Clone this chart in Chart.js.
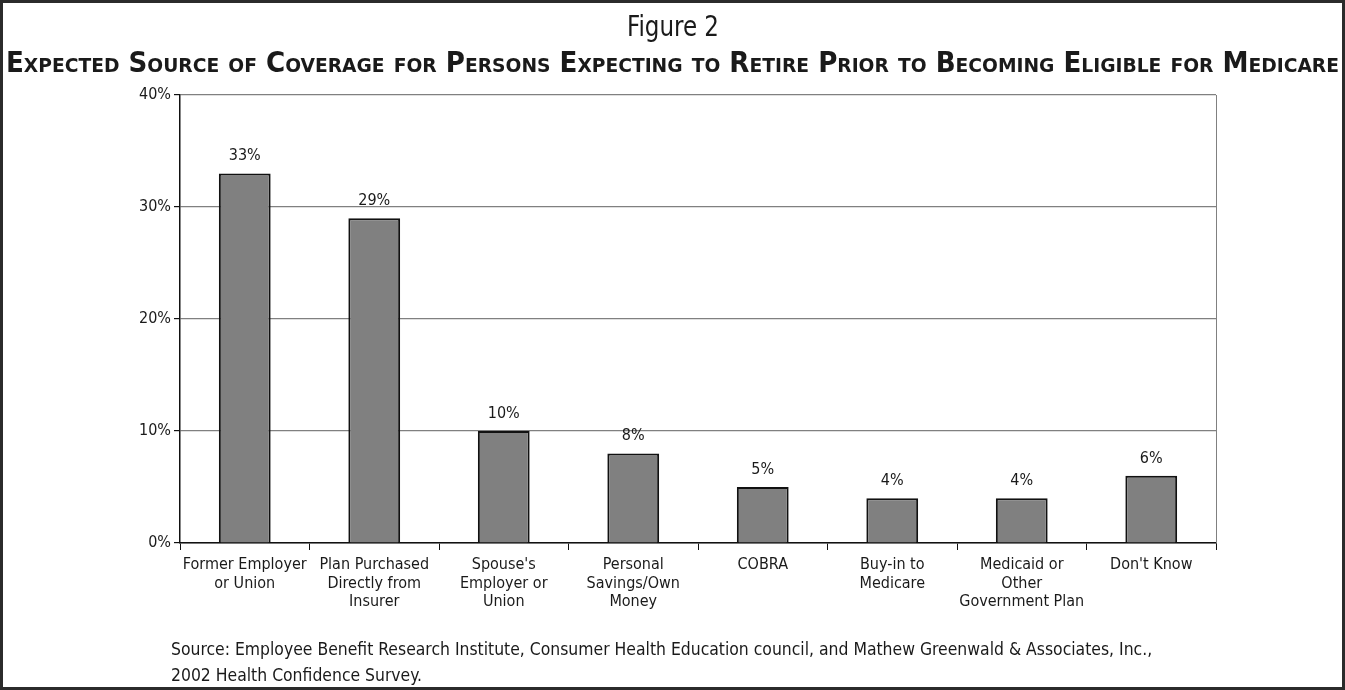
<!DOCTYPE html>
<html>
<head>
<meta charset="utf-8">
<script src="https://cdn.jsdelivr.net/npm/chart.js@4/dist/chart.umd.min.js"></script>
<style>
    html, body { margin: 0; padding: 0; background: #fff; }
    #frame {
        position: relative;
        width: 1345px;
        height: 690px;
        box-sizing: border-box;
        border: 3px solid #2b2b2b;
        overflow: hidden;
        font-family: "Liberation Sans Narrow", "DejaVu Sans Condensed", "Liberation Sans", sans-serif;
        color: #1a1a1a;
    }
    .fit {
        position: absolute; white-space: nowrap; line-height: 1;
        transform-origin: 0 0;
    }
    #figNo { top: 10px; font-size: 28px; }
    #title { top: 46px; font-size: 28px; font-weight: bold; font-variant: small-caps; }
    #source {
        position: absolute; left: 168px; top: 633px;
        font-size: 17.4px; line-height: 26px;
    }
    #chartBox { position: absolute; left: -3px; top: -3px; width: 1345px; height: 690px; }
</style>
</head>
<body>
<div id="frame">
    <div id="chartBox"><canvas id="coverageChart"></canvas></div>
    <div id="figNo" class="fit">Figure 2</div>
    <div id="title" class="fit">Expected Source of Coverage for Persons Expecting to Retire Prior to Becoming Eligible for Medicare</div>
    <div id="source">Source: Employee Benefit Research Institute, Consumer Health Education council, and Mathew Greenwald &amp; Associates, Inc.,<br>2002 Health Confidence Survey.</div>
</div>

<script>
const categories = [
    ["Former Employer", "or Union"],
    ["Plan Purchased", "Directly from", "Insurer"],
    ["Spouse's", "Employer or", "Union"],
    ["Personal", "Savings/Own", "Money"],
    ["COBRA"],
    ["Buy-in to", "Medicare"],
    ["Medicaid or", "Other", "Government Plan"],
    ["Don't Know"]
];
const shares = [33, 29, 10, 8, 5, 4, 4, 6];
const yTicks = [0, 10, 20, 30, 40];

const FONT = "'Liberation Sans Narrow', 'DejaVu Sans Condensed', 'Liberation Sans', sans-serif";

/* squeeze a heading to a given width, centred on the frame */
function fitText(id, width) {
    const el = document.getElementById(id);
    const w = el.getBoundingClientRect().width;
    el.style.left = (1339 / 2 - width / 2) + "px";
    el.style.transform = "scaleX(" + (width / w) + ")";
}
fitText("figNo", 92);
fitText("title", 1333);

/* value labels above bars + gray right border of the plot */
const extras = {
    id: "extras",
    afterDatasetsDraw(chart) {
        const ctx = chart.ctx;
        const area = chart.chartArea;
        ctx.save();
        ctx.strokeStyle = "#808080";
        ctx.lineWidth = 1;
        ctx.beginPath();
        ctx.moveTo(area.right + 0.5, area.top);
        ctx.lineTo(area.right + 0.5, area.bottom);
        ctx.stroke();

        ctx.fillStyle = "#1a1a1a";
        ctx.font = "16px " + FONT;
        ctx.textAlign = "center";
        ctx.textBaseline = "alphabetic";
        chart.getDatasetMeta(0).data.forEach((bar, i) => {
            ctx.fillText(shares[i] + "%", bar.x, bar.y - 13);
        });
        ctx.restore();
    }
};

new Chart(document.getElementById("coverageChart"), {
    type: "bar",
    data: {
        labels: categories,
        datasets: [{
            data: shares,
            backgroundColor: "#808080",
            borderColor: "#111",
            borderWidth: 2,
            borderSkipped: "bottom",
            categoryPercentage: 1,
            barPercentage: 0.4
        }]
    },
    options: {
        responsive: true,
        maintainAspectRatio: false,
        animation: false,
        events: [],
        layout: { padding: { top: 95, right: 129, bottom: 70, left: 0 } },
        plugins: { legend: { display: false }, tooltip: { enabled: false } },
        scales: {
            x: {
                grid: {
                    offset: true,
                    drawOnChartArea: false,
                    color: "#111",
                    tickLength: 7
                },
                border: { color: "#111", width: 1.5 },
                ticks: {
                    color: "#1a1a1a",
                    font: { family: FONT, size: 16, lineHeight: 1.15 },
                    maxRotation: 0,
                    autoSkip: false,
                    padding: 6
                },
                afterFit(scale) { scale.height = 77; }
            },
            y: {
                min: 0,
                max: 40,
                afterBuildTicks(scale) { scale.ticks = yTicks.map(v => ({ value: v })); },
                grid: {
                    color: "#808080",
                    tickColor: "#111",
                    tickLength: 6,
                    lineWidth: 1.2
                },
                border: { color: "#111", width: 1.5 },
                ticks: {
                    color: "#1a1a1a",
                    font: { family: FONT, size: 16 },
                    padding: 3,
                    callback: v => v + "%"
                },
                afterFit(scale) { scale.width = 180; }
            }
        }
    },
    plugins: [extras]
});
</script>
</body>
</html>
